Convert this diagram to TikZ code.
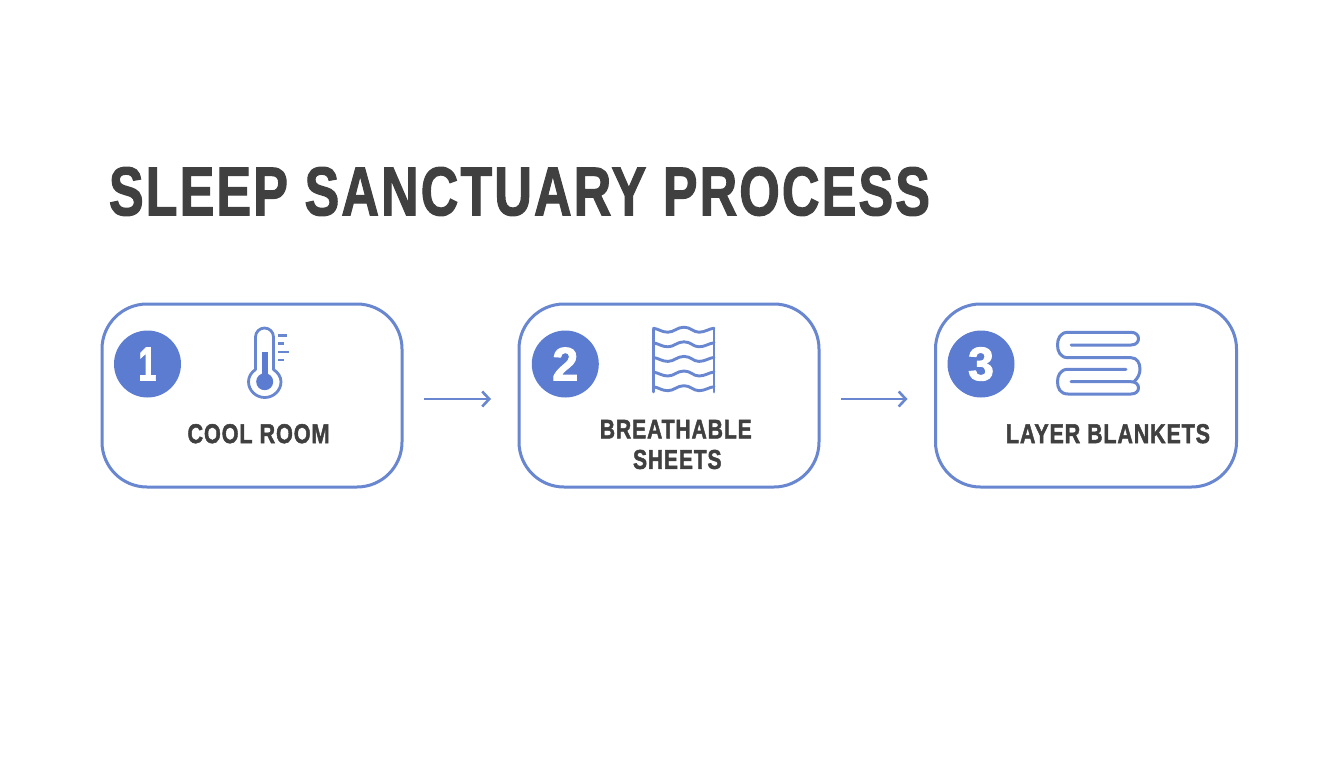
\documentclass[tikz,border=0pt]{standalone}
\usepackage{fontspec}
\usepackage{graphicx}
\setmainfont{Liberation Sans}[BoldFeatures={FakeBold=1.9,LetterSpace=4}]
\usetikzlibrary{arrows.meta}
\definecolor{bluefill}{RGB}{91,124,208}
\definecolor{blueline}{RGB}{104,135,208}
\definecolor{ink}{RGB}{64,64,64}
\newcommand{\fit}[3]{\resizebox{#1pt}{#2pt}{\bfseries #3}}
\tikzset{
  x=1pt,y=-1pt,
  stepcard/.style={draw=blueline,line width=3pt,rounded corners=45pt,fill=white,inner sep=0pt,outer sep=0pt,anchor=north west},
  badge/.style={circle,fill=bluefill,minimum size=67pt,inner sep=0pt,text=white},
  label/.style={inner sep=0pt,text=ink},
  icon/.style={draw=blueline,line width=2.9pt,line cap=round,line join=round},
  flow/.style={draw=blueline,line width=2.6pt,-{Straight Barb[length=7pt,width=15pt,line width=2.6pt]}},
}
\begin{document}
\begin{tikzpicture}
\useasboundingbox (0,0) rectangle (1344,768);
\fill[white] (0,0) rectangle (1344,768);
\node[label] (title) at (519.5,191.5) {\fit{821}{48}{SLEEP SANCTUARY PROCESS}};
\node[stepcard,minimum width=300pt,minimum height=183pt] (c1) at (102,304) {};
\node[stepcard,minimum width=300pt,minimum height=183pt] (c2) at (519,304) {};
\node[stepcard,minimum width=301pt,minimum height=183pt] (c3) at (935.5,304) {};
\node[badge] (b1) at (147.5,364) {\fit{18}{33}{1}};
\node[badge] (b2) at (565.3,364) {\fit{26}{33}{2}};
\node[badge] (b3) at (981,364) {\fit{26}{33}{3}};
\node[label] (t1) at (258.5,433.7) {\fit{142}{19}{COOL ROOM}};
\node[label] (t2a) at (675.8,429.2) {\fit{152}{18.5}{BREATHABLE}};
\node[label] (t2b) at (677.3,459.5) {\fit{88.5}{19}{SHEETS}};
\node[label] (t3) at (1108,433.7) {\fit{204}{19}{LAYER BLANKETS}};
\draw[flow,shorten <=22pt,shorten >=28pt] ([yshift=-3.5pt]c1.east) -- ([yshift=-3.5pt]c2.west);
\draw[flow,shorten <=22pt,shorten >=28pt] ([yshift=-3.5pt]c2.east) -- ([yshift=-3.5pt]c3.west);
% thermometer
\draw[icon,fill=white,line width=2.8pt] (255.5,369.5) -- (255.5,337) arc[start angle=180,end angle=360,radius=9] -- (273.5,369.5)
  .. controls (278,372.5) and (281,377) .. (281,381.7)
  .. controls (281,390.5) and (273.5,397.5) .. (264.7,397.5)
  .. controls (256,397.5) and (248.5,390.5) .. (248.5,381.7)
  .. controls (248.5,377) and (251,372.5) .. (255.5,369.5) -- cycle;
\fill[bluefill] (261.7,351.7) rectangle (267.7,376);
\fill[bluefill] (264.7,381.7) circle[radius=8.5];
\draw[icon,line cap=butt] (278.3,335.2) -- (286.7,335.2);
\draw[icon,line cap=butt] (278.3,343.5) -- (284.3,343.5);
\draw[icon,line cap=butt] (278.3,352) -- (289.3,352);
\draw[icon,line cap=butt] (278.3,360) -- (284.3,360);
% waves
\foreach \yy in {329.7,344.3,358.9,373.5,388.2}{
  \draw[icon] (653.5,\yy-1.5) .. controls (659,\yy-0.5) and (662,\yy+2.5) .. (668,\yy+2.5)
     .. controls (674,\yy+2.5) and (677,\yy-2.5) .. (684,\yy-2.5)
     .. controls (691,\yy-2.5) and (693,\yy+2.5) .. (699,\yy+2.5)
     .. controls (705,\yy+2.5) and (709,\yy-1) .. (714,\yy-1.5);
}
\draw[icon] (653.5,329) -- (653.5,392);
\draw[icon] (714,329) -- (714,392);
% blankets
\draw[icon,line width=3pt]
  (1071,345) -- (1131,345)
  .. controls (1137,345) and (1138.5,341) .. (1138.5,338.5)
  .. controls (1138.5,335.5) and (1136,332.3) .. (1131,332.3)
  -- (1068,332.3)
  .. controls (1060,332.3) and (1057.5,339) .. (1057.5,345)
  .. controls (1057.5,351) and (1060,357.7) .. (1068,357.7)
  -- (1131,357.7)
  .. controls (1137,357.7) and (1140,363) .. (1140,369)
  .. controls (1140,374) and (1138,378) .. (1134,381.7);
\draw[icon,line width=3pt]
  (1126,369.3) -- (1068,369.3)
  .. controls (1060,369.3) and (1057.5,376) .. (1057.5,381.7)
  .. controls (1057.5,388) and (1060,394) .. (1068,394)
  -- (1131,394)
  .. controls (1136,394) and (1138.5,391) .. (1138.5,388)
  .. controls (1138.5,384.5) and (1136,381.7) .. (1131,381.7)
  -- (1071,381.7);
\end{tikzpicture}
\end{document}
